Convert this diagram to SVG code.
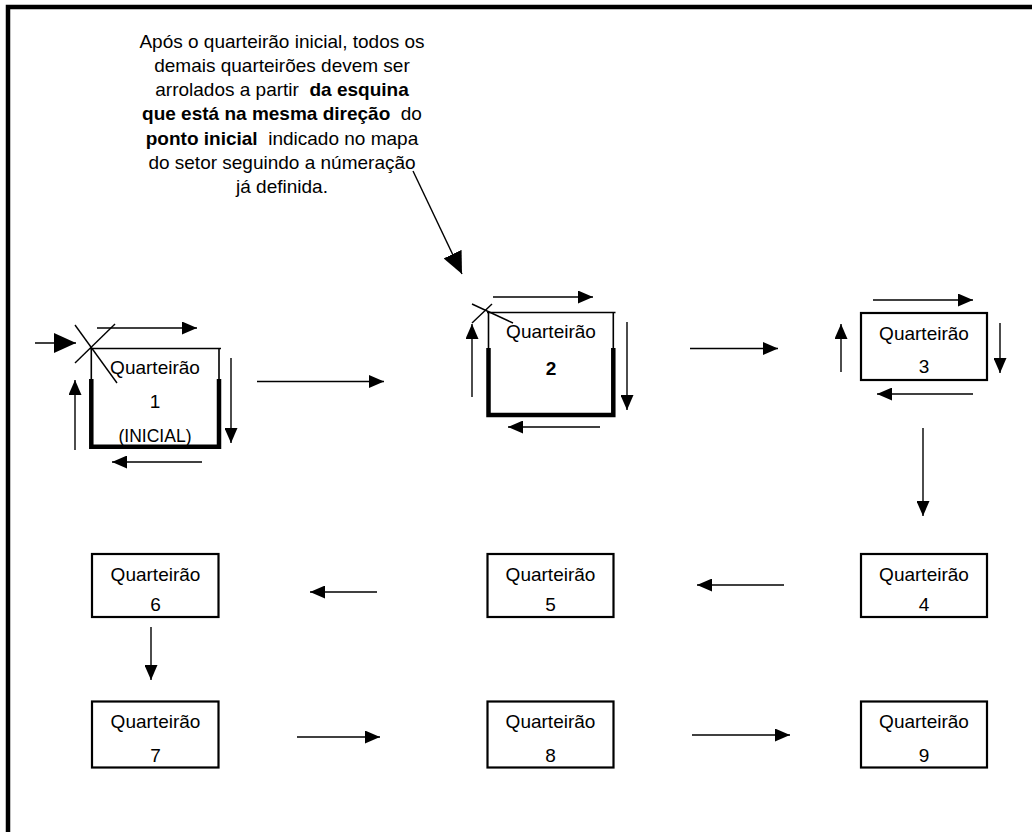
<svg xmlns="http://www.w3.org/2000/svg" width="1032" height="832" viewBox="0 0 1032 832">
<defs>
<style>
text{font-family:"Liberation Sans",Arial,sans-serif;font-size:19px;fill:#000;white-space:pre}
.c{text-anchor:middle}
.b{font-weight:bold}
.s{font-size:17.5px}
.ln{stroke:#000;stroke-width:1.4;fill:none}
.box{stroke:#000;stroke-width:2.2;fill:#fff}
.thick{stroke:#000;stroke-width:4.5;fill:none;stroke-linejoin:miter}
.thin{stroke:#000;stroke-width:1.6;fill:none}
.arr{stroke:#000;stroke-width:1.4;fill:none;marker-end:url(#ah)}
.arrL{stroke:#000;stroke-width:1.4;fill:none;marker-end:url(#ahL)}
</style>
<marker id="ah" markerUnits="userSpaceOnUse" markerWidth="15" markerHeight="13" refX="15" refY="6.5" orient="auto" viewBox="0 0 15 13">
<path d="M0,0 L15,6.5 L0,13 z" fill="#000"/>
</marker>
<marker id="ahL" markerUnits="userSpaceOnUse" markerWidth="22" markerHeight="20" refX="22" refY="10" orient="auto" viewBox="0 0 22 20">
<path d="M0,0 L22,10 L0,20 z" fill="#000"/>
</marker>
</defs>
<rect width="1032" height="832" fill="#fff"/>
<path d="M8,832 V7 H1032" fill="none" stroke="#000" stroke-width="4.5"/>

<g id="note">
<text class="c" x="282" y="48">Após o quarteirão inicial, todos os</text>
<text class="c" x="282" y="72">demais quarteirões devem ser</text>
<text class="c" x="282" y="96">arrolados a partir  <tspan class="b">da esquina</tspan></text>
<text class="c" x="282" y="120"><tspan class="b">que está na mesma direção</tspan>  do</text>
<text class="c" x="282" y="145"><tspan class="b">ponto inicial</tspan>  indicado no mapa</text>
<text class="c" x="282" y="169">do setor seguindo a númeração</text>
<text class="c" x="282" y="193">já definida.</text>
</g>

<g id="q1">
<path class="thin" d="M90,348.5 H221 M91.3,348.5 V380 M219,348.5 V380"/>
<path class="thick" d="M91.3,379 V446.7 H219 V379"/>
<text class="c" x="155" y="374">Quarteirão</text>
<text class="c" x="155" y="408">1</text>
<text class="c s" x="155" y="442">(INICIAL)</text>
</g>

<g id="q2">
<path class="thin" d="M487,312.5 H615.5 M488.5,312.5 V349 M613.3,312.5 V349"/>
<path class="thick" d="M488.5,348 V415 H613.3 V348"/>
<text class="c" x="551" y="338">Quarteirão</text>
<text class="c b" x="551" y="375">2</text>
</g>

<g id="q3">
<rect class="box" x="861" y="313" width="126" height="67"/>
<text class="c" x="924" y="340">Quarteirão</text>
<text class="c" x="924" y="373">3</text>
</g>

<g id="q4">
<rect class="box" x="861" y="554" width="126" height="63"/>
<text class="c" x="924" y="581">Quarteirão</text>
<text class="c" x="924" y="611">4</text>
</g>

<g id="q5">
<rect class="box" x="487.5" y="554" width="126" height="63"/>
<text class="c" x="550.5" y="581">Quarteirão</text>
<text class="c" x="550.5" y="611">5</text>
</g>

<g id="q6">
<rect class="box" x="92" y="554" width="126.5" height="63"/>
<text class="c" x="155.5" y="581">Quarteirão</text>
<text class="c" x="155.5" y="611">6</text>
</g>

<g id="q7">
<rect class="box" x="92" y="701.5" width="126.5" height="66"/>
<text class="c" x="155.5" y="728">Quarteirão</text>
<text class="c" x="155.5" y="762">7</text>
</g>

<g id="q8">
<rect class="box" x="487.5" y="701.5" width="126" height="66"/>
<text class="c" x="550.5" y="728">Quarteirão</text>
<text class="c" x="550.5" y="762">8</text>
</g>

<g id="q9">
<rect class="box" x="861" y="701.5" width="126" height="66"/>
<text class="c" x="924" y="728">Quarteirão</text>
<text class="c" x="924" y="762">9</text>
</g>

<g id="connectors">
<line class="arrL" x1="413" y1="171" x2="462" y2="274"/>
<line class="ln" x1="75" y1="325" x2="117" y2="383"/>
<line class="ln" x1="75" y1="363" x2="115" y2="324"/>
<line class="arrL" x1="35" y1="343" x2="76" y2="343"/>
<line class="arr" x1="97" y1="328" x2="197" y2="328"/>
<line class="arr" x1="231" y1="358" x2="231" y2="443"/>
<line class="arr" x1="202" y1="462" x2="112" y2="462"/>
<line class="arr" x1="75" y1="450" x2="75" y2="380"/>
<line class="arr" x1="257" y1="381.5" x2="384" y2="381.5"/>
<line class="ln" x1="472" y1="304" x2="513" y2="323"/>
<line class="ln" x1="492" y1="304" x2="472" y2="323"/>
<line class="arr" x1="493" y1="297" x2="593" y2="297"/>
<line class="arr" x1="627" y1="322" x2="627" y2="410"/>
<line class="arr" x1="600" y1="427" x2="508" y2="427"/>
<line class="arr" x1="472" y1="397" x2="472" y2="324"/>
<line class="arr" x1="690" y1="348.5" x2="778" y2="348.5"/>
<line class="arr" x1="873" y1="300" x2="973" y2="300"/>
<line class="arr" x1="1000" y1="323" x2="1000" y2="373"/>
<line class="arr" x1="973" y1="394" x2="877" y2="394"/>
<line class="arr" x1="841" y1="372" x2="841" y2="324"/>
<line class="arr" x1="923" y1="428" x2="923" y2="516"/>
<line class="arr" x1="784" y1="585" x2="697" y2="585"/>
<line class="arr" x1="377" y1="592" x2="310" y2="592"/>
<line class="arr" x1="151" y1="627" x2="151" y2="680"/>
<line class="arr" x1="297" y1="737" x2="380" y2="737"/>
<line class="arr" x1="692" y1="735" x2="790" y2="735"/>
</g>
</svg>
